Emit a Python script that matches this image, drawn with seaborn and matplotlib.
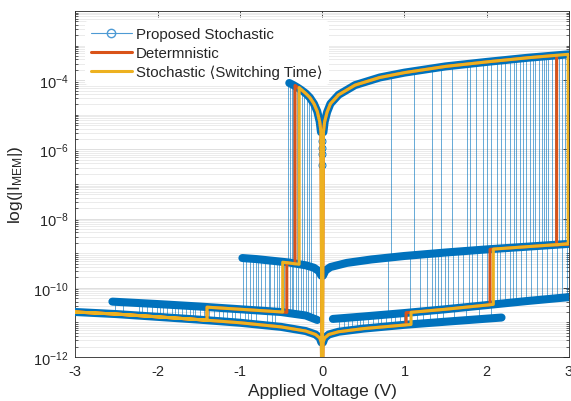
import numpy as np
import pandas as pd
import matplotlib
matplotlib.use("Agg")
import matplotlib.pyplot as plt
import seaborn as sns
from matplotlib.lines import Line2D
from matplotlib.ticker import FixedLocator, NullFormatter, LogFormatterSciNotation

# ---------------- data (V, log10|I|) ----------------
# high-conductance (ON) state
on_left_v = [-0.40, -0.35, -0.30, -0.25, -0.20, -0.15, -0.10, -0.06, -0.03, -0.015]
on_left_log = [-4.08, -4.14, -4.21, -4.29, -4.38, -4.50, -4.68, -4.90, -5.20, -5.50]
on_right_v = [0.015, 0.03, 0.06, 0.10, 0.20, 0.40, 0.70, 1.00, 1.50, 2.00, 2.50, 3.00]
on_right_log = [-5.50, -5.20, -4.92, -4.68, -4.42, -4.14, -3.92, -3.78, -3.60, -3.47, -3.35, -3.25]
# intermediate state C
c_left_v = [-0.97, -0.80, -0.60, -0.40, -0.20, -0.10, -0.04, -0.01]
c_left_log = [-9.14, -9.17, -9.22, -9.27, -9.35, -9.42, -9.52, -9.65]
c_right_v = [0.01, 0.04, 0.10, 0.30, 0.60, 1.00, 1.50, 2.00, 2.50, 3.00]
c_right_log = [-9.65, -9.50, -9.40, -9.28, -9.18, -9.08, -8.98, -8.89, -8.81, -8.73]
# intermediate state B
b_left_v = [-2.55, -2.00, -1.50, -1.00, -0.50, -0.20, -0.06]
b_left_log = [-10.40, -10.47, -10.54, -10.62, -10.70, -10.80, -10.93]
b_right_v = [0.13, 0.50, 1.00, 1.50, 2.00, 2.50, 3.00]
b_right_log = [-10.90, -10.83, -10.73, -10.62, -10.50, -10.38, -10.27]
# low-conductance state A
a_left_v = [-3.00, -2.50, -2.00, -1.50, -1.00, -0.50, -0.20, -0.08, -0.03, -0.01]
a_left_log = [-10.70, -10.76, -10.84, -10.92, -11.01, -11.13, -11.25, -11.35, -11.45, -11.58]
a_right_v = [0.01, 0.03, 0.08, 0.20, 0.50, 1.00, 1.50, 2.18]
a_right_log = [-11.58, -11.45, -11.35, -11.27, -11.18, -11.07, -10.98, -10.86]
# isolated samples at the ON-state dip
dip_v = [0.003, -0.002, 0.001, -0.001]
dip_log = [-5.75, -5.95, -6.13, -6.45]

# stochastic switching voltages of the proposed model (state transitions)
sw_on_c_left = [-0.41, -0.39, -0.37, -0.35, -0.31, -0.29, -0.25, -0.22, -0.19, -0.16, -0.14]
sw_c_b_left = [-0.96, -0.92, -0.88, -0.84, -0.80, -0.78, -0.74, -0.70, -0.65, -0.63,
               -0.59, -0.55, -0.52, -0.47, -0.43, -0.39, -0.37, -0.35, -0.32, -0.29,
               -0.26, -0.23, -0.20, -0.17, -0.14, -0.11, -0.08]
sw_b_a_left = [-2.52, -2.42, -2.23, -2.19, -2.13, -2.07, -2.01, -1.97, -1.93, -1.89,
               -1.83, -1.79, -1.75, -1.71, -1.65, -1.61, -1.57, -1.55, -1.48, -1.44,
               -1.38, -1.32, -1.26, -1.20, -1.16, -1.10, -1.06, -1.00, -0.94, -0.90,
               -0.86, -0.80, -0.67, -0.61, -0.57]
sw_on_c_right = [0.84, 1.12, 1.33, 1.45, 1.58, 1.76, 1.80, 1.87, 1.95, 2.00, 2.05, 2.12,
                 2.17, 2.22, 2.28, 2.33, 2.36, 2.40, 2.44, 2.48, 2.52, 2.56, 2.59, 2.63,
                 2.67, 2.70, 2.72, 2.75, 2.79, 2.83, 2.88, 2.91, 2.95, 2.99]
sw_c_b_right = [0.80, 1.07, 1.19, 1.27, 1.33, 1.37, 1.41, 1.45, 1.49, 1.53, 1.59, 1.65,
                1.71, 1.78, 1.82, 1.88, 1.94, 2.00, 2.06, 2.12, 2.16, 2.22, 2.28, 2.32,
                2.36, 2.42, 2.48, 2.54, 2.61, 2.67, 2.73, 2.79, 2.85, 2.91, 2.97]
sw_b_a_right = [0.21, 0.27, 0.31, 0.36, 0.42, 0.46, 0.50, 0.56, 0.62, 0.68, 0.72, 0.78,
                0.84, 0.88, 0.95, 0.99, 1.15, 1.22, 1.31, 1.39, 1.47, 1.60, 1.75, 1.90, 2.05]

# stochastic (switching time) loop; -14 = zero current at 0 V
orange_v = [0.0, 0.015, 0.03, 0.06, 0.10, 0.20, 0.40, 0.70, 1.00, 1.50, 2.00, 2.50, 2.99,
            2.99, 2.50, 2.08, 2.08, 1.50, 1.08, 1.08, 0.50, 0.20, 0.08, 0.03, 0.01, 0.0,
            -0.01, -0.03, -0.08, -0.20, -0.50, -1.00, -1.50, -2.00, -2.50, -3.00,
            -2.50, -2.00, -1.50, -1.40, -1.40, -1.00, -0.48, -0.48, -0.28, -0.28,
            -0.20, -0.15, -0.10, -0.06, -0.03, -0.015, 0.0]
orange_log = [-14, -5.50, -5.20, -4.92, -4.68, -4.42, -4.14, -3.92, -3.78, -3.60, -3.47, -3.35, -3.25,
              -8.73, -8.81, -8.88, -10.48, -10.62, -10.71, -11.06, -11.18, -11.27, -11.35, -11.45, -11.58, -14,
              -11.58, -11.45, -11.35, -11.25, -11.13, -11.01, -10.92, -10.84, -10.76, -10.70,
              -10.76, -10.84, -10.92, -10.94, -10.56, -10.62, -10.70, -9.26, -9.32, -4.21,
              -4.38, -4.50, -4.68, -4.90, -5.20, -5.50, -14]
# deterministic loop
red_v = [0.0, 0.015, 0.03, 0.06, 0.10, 0.20, 0.40, 0.70, 1.00, 1.50, 2.00, 2.50, 2.85,
         2.85, 3.00, 2.50, 2.04, 2.04, 1.50, 1.02, 1.02, 0.50, 0.20, 0.08, 0.03, 0.01, 0.0,
         -0.01, -0.03, -0.08, -0.20, -0.50, -1.00, -1.50, -2.00, -2.50, -3.00,
         -2.50, -2.00, -1.50, -1.40, -1.40, -1.00, -0.43, -0.43, -0.33, -0.33,
         -0.25, -0.20, -0.15, -0.10, -0.06, -0.03, -0.015, 0.0]
red_log = [-14, -5.50, -5.20, -4.92, -4.68, -4.42, -4.14, -3.92, -3.78, -3.60, -3.47, -3.35, -3.28,
           -8.76, -8.73, -8.81, -8.89, -10.49, -10.62, -10.72, -11.07, -11.18, -11.27, -11.35, -11.45, -11.58, -14,
           -11.58, -11.45, -11.35, -11.25, -11.13, -11.01, -10.92, -10.84, -10.76, -10.70,
           -10.76, -10.84, -10.92, -10.94, -10.56, -10.62, -10.71, -9.27, -9.31, -4.15,
           -4.29, -4.38, -4.50, -4.68, -4.90, -5.20, -5.50, -14]

xticks = [-3, -2, -1, 0, 1, 2, 3]
ytick_exps = [-12, -10, -8, -6, -4]

# ---------------- styling ----------------
BLUE = "#0072BD"
RED = "#D95319"
YEL = "#EDB120"

sns.set_theme(style="white")
plt.rcParams["font.family"] = ["Liberation Sans", "DejaVu Sans"]
plt.rcParams["mathtext.fontset"] = "custom"
plt.rcParams["mathtext.rm"] = "Liberation Sans"
plt.rcParams["mathtext.it"] = "Liberation Sans:italic"

fig = plt.figure(figsize=(5.71, 4.02), dpi=100)
ax = fig.add_axes([0.132, 0.1095, 0.8645, 0.8605])
ax.set_yscale("log")

def band(v, lg):
    sns.lineplot(x=v, y=10.0 ** np.asarray(lg), ax=ax, color=BLUE, lw=5.8,
                 sort=False, estimator=None, solid_capstyle="round", zorder=3)

levels = {
    "on_l": (on_left_v, on_left_log), "on_r": (on_right_v, on_right_log),
    "c_l": (c_left_v, c_left_log), "c_r": (c_right_v, c_right_log),
    "b_l": (b_left_v, b_left_log), "b_r": (b_right_v, b_right_log),
    "a_l": (a_left_v, a_left_log), "a_r": (a_right_v, a_right_log),
}

def level_at(name, v):
    lv, lg = levels[name]
    return 10.0 ** np.interp(v, lv, lg)

groups = [
    (sw_on_c_left, "on_l", "c_l"), (sw_c_b_left, "c_l", "b_l"), (sw_b_a_left, "b_l", "a_l"),
    (sw_on_c_right, "on_r", "c_r"), (sw_c_b_right, "c_r", "b_r"), (sw_b_a_right, "b_r", "a_r"),
]
for sw, hi, lo in groups:
    ax.vlines(sw, level_at(lo, sw), level_at(hi, sw), color=BLUE, lw=0.6, alpha=0.7, zorder=2)

for name in levels:
    band(*levels[name])

sns.lineplot(x=dip_v, y=10.0 ** np.asarray(dip_log), ax=ax, color=BLUE, lw=0.6,
             marker="o", markersize=5, markerfacecolor="none", markeredgecolor=BLUE,
             markeredgewidth=0.7, sort=False, estimator=None, zorder=3)

sns.lineplot(x=red_v, y=10.0 ** np.asarray(red_log), ax=ax, color=RED, lw=2.2,
             sort=False, estimator=None, zorder=4)
sns.lineplot(x=orange_v, y=10.0 ** np.asarray(orange_log), ax=ax, color=YEL, lw=2.2,
             sort=False, estimator=None, zorder=5)

# axes
ax.set_xlim(-3, 3)
ax.set_ylim(1e-12, 1e-2)
ax.set_xticks(xticks)
ax.set_xticklabels([str(t) for t in xticks])
ax.yaxis.set_major_locator(FixedLocator([10.0 ** e for e in ytick_exps]))
ax.yaxis.set_major_formatter(LogFormatterSciNotation())
minor = [m * 10.0 ** e for e in range(-12, -2) for m in range(1, 10) if not (m == 1 and e in ytick_exps)]
ax.yaxis.set_minor_locator(FixedLocator(minor))
ax.yaxis.set_minor_formatter(NullFormatter())
ax.grid(False)
ax.grid(True, axis="y", which="major", color="#d9d9d9", lw=0.6)
ax.grid(True, axis="y", which="minor", color="#e8e8e8", lw=0.6)
ax.set_axisbelow(True)
ax.tick_params(axis="both", which="major", direction="in", length=4, width=0.6,
               top=True, right=True, labelsize=10.5, colors="#262626", pad=5)
ax.tick_params(axis="y", which="minor", direction="in", length=2, width=0.5, left=True, right=True)
ax.tick_params(axis="x", which="minor", bottom=False, top=False)
for s in ax.spines.values():
    s.set_color("#262626")
    s.set_linewidth(0.6)
    s.set_visible(True)

ax.set_xlabel("Applied Voltage (V)", fontsize=12.5, color="#262626", labelpad=4)
ax.set_ylabel(r"log(|I$_{\mathrm{MEM}}$|)", fontsize=12.5, color="#262626", labelpad=6)

handles = [
    Line2D([], [], color="#4d9ad4", lw=0.8, marker="o", markersize=6,
           markerfacecolor="none", markeredgecolor="#4d9ad4"),
    Line2D([], [], color=RED, lw=2.2),
    Line2D([], [], color=YEL, lw=2.2),
]
labels = ["Proposed Stochastic", "Determnistic", "Stochastic \u27e8Switching Time\u27e9"]
leg = ax.legend(handles, labels, loc="upper left", bbox_to_anchor=(0.0, 1.0),
                fontsize=10.8, frameon=True, framealpha=1, facecolor="white",
                edgecolor="none", handlelength=2.7, handletextpad=0.3,
                labelspacing=0.33, borderaxespad=0.65, borderpad=0.4)
leg.set_zorder(2.5)

fig.savefig("out.png", dpi=100)
